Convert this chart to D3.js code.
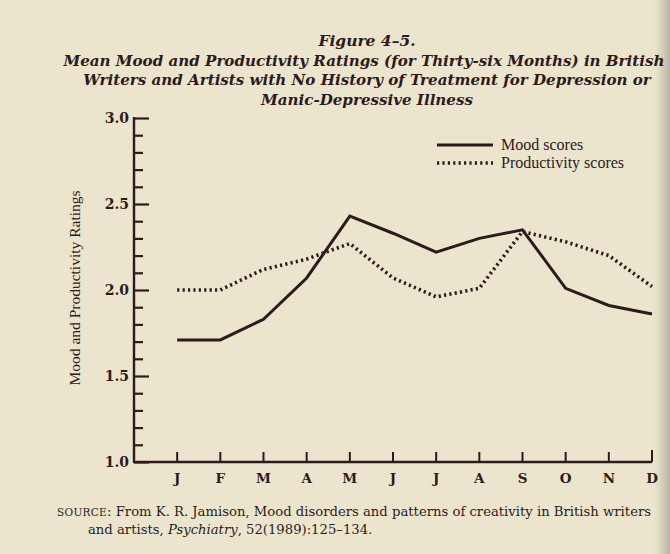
<!DOCTYPE html>
<html>
<head>
<meta charset="utf-8">
<script src="https://cdn.jsdelivr.net/npm/d3@7/dist/d3.min.js"></script>
<style>
  html, body { margin: 0; padding: 0; background: #ece5cd; }
  svg { display: block; }
</style>
</head>
<body>
<svg id="chart" width="670" height="554"></svg>
<script>
// Monthly mean ratings over thirty-six months
const months = ["J", "F", "M", "A", "M", "J", "J", "A", "S", "O", "N", "D"];
const moodScores = [1.71, 1.71, 1.83, 2.07, 2.43, 2.33, 2.22, 2.30, 2.35, 2.01, 1.91, 1.86];
const productivityScores = [2.00, 2.00, 2.12, 2.18, 2.27, 2.07, 1.96, 2.01, 2.34, 2.28, 2.20, 2.02];
const yMajorTicks = [1.0, 1.5, 2.0, 2.5, 3.0];
const yMinorTicks = [1.1, 1.2, 1.3, 1.4, 1.6, 1.7, 1.8, 1.9, 2.1, 2.2, 2.3, 2.4, 2.6, 2.7, 2.8, 2.9];
const titleLines = [
  "Figure 4\u20135.",
  "Mean Mood and Productivity Ratings (for Thirty-six Months) in British",
  "Writers and Artists with No History of Treatment for Depression or",
  "Manic-Depressive Illness"
];
const seriesNames = ["Mood scores", "Productivity scores"];

const ink = "#2c1a1e";
const svg = d3.select("#chart");

// paper tone with a darker gutter on the right edge
const defs = svg.append("defs");
const grad = defs.append("linearGradient").attr("id", "gutter").attr("x1", 0).attr("x2", 1);
grad.append("stop").attr("offset", 0).attr("stop-color", "#ece5cd").attr("stop-opacity", 0);
grad.append("stop").attr("offset", 0.5).attr("stop-color", "#d9d2bd").attr("stop-opacity", 1);
grad.append("stop").attr("offset", 1).attr("stop-color", "#b9b2a3").attr("stop-opacity", 1);
svg.append("rect").attr("width", 670).attr("height", 554).attr("fill", "#ece5cd");
svg.append("rect")
  .attr("x", 652).attr("y", 0).attr("width", 18).attr("height", 554)
  .attr("fill", "url(#gutter)");

// scales
const x = d3.scalePoint().domain(d3.range(13)).range([134, 652]);
const y = d3.scaleLinear().domain([1, 3]).range([462, 118]);

// title
const title = svg.append("g")
  .attr("font-family", "'DejaVu Serif', serif")
  .attr("font-style", "italic")
  .attr("font-weight", "bold")
  .attr("fill", ink)
  .attr("text-anchor", "middle");
titleLines.forEach((t, i) => {
  title.append("text")
    .attr("x", i === 1 ? 364 : 367)
    .attr("y", 46 + i * 19.7)
    .attr("font-size", i === 0 ? 15.5 : 15.1)
    .text(t);
});

// y axis: line with major and minor ticks
const yAxis = d3.axisRight(y).tickValues(yMajorTicks).tickSize(15).tickFormat("");
const gy = svg.append("g").attr("transform", "translate(134,0)").call(yAxis);
gy.select(".domain").remove();
gy.selectAll(".tick line").attr("stroke", ink).attr("stroke-width", 2.2);
const yMinor = d3.axisRight(y).tickValues(yMinorTicks).tickSize(9).tickFormat("");
const gym = svg.append("g").attr("transform", "translate(134,0)").call(yMinor);
gym.select(".domain").remove();
gym.selectAll(".tick line").attr("stroke", ink).attr("stroke-width", 2.2);
svg.append("line")
  .attr("x1", 134).attr("x2", 134)
  .attr("y1", y(3) - 1).attr("y2", y(1) + 1)
  .attr("stroke", ink).attr("stroke-width", 2.4);

// y tick labels
svg.append("g")
  .attr("font-family", "'DejaVu Serif', serif")
  .attr("font-weight", "bold")
  .attr("font-size", 14)
  .attr("fill", ink)
  .attr("text-anchor", "end")
  .selectAll("text")
  .data(yMajorTicks)
  .join("text")
  .attr("x", 129)
  .attr("y", d => y(d) + 5)
  .text(d => d.toFixed(1));

// y axis title
svg.append("text")
  .attr("transform", "translate(80,288) rotate(-90)")
  .attr("text-anchor", "middle")
  .attr("font-family", "'Liberation Serif', serif")
  .attr("font-size", 15.5)
  .attr("fill", ink)
  .text("Mood and Productivity Ratings");

// x axis: baseline with upward month ticks
svg.append("line")
  .attr("x1", 134).attr("x2", x(12))
  .attr("y1", y(1)).attr("y2", y(1))
  .attr("stroke", ink).attr("stroke-width", 2.4);
const monthIdx = d3.range(1, 13);
svg.append("g").selectAll("line")
  .data(monthIdx)
  .join("line")
  .attr("x1", d => x(d)).attr("x2", d => x(d))
  .attr("y1", y(1)).attr("y2", d => y(1) - (d === 12 ? 12 : 10))
  .attr("stroke", ink).attr("stroke-width", 2);
svg.append("g")
  .attr("font-family", "'DejaVu Serif', serif")
  .attr("font-weight", "bold")
  .attr("font-size", 13.5)
  .attr("fill", ink)
  .attr("text-anchor", "middle")
  .selectAll("text")
  .data(months)
  .join("text")
  .attr("x", (d, i) => x(i + 1))
  .attr("y", 483)
  .text(d => d);

// series lines
const line = d3.line().x((d, i) => x(i + 1)).y(d => y(d));
svg.append("path")
  .datum(productivityScores)
  .attr("d", line)
  .attr("fill", "none")
  .attr("stroke", ink)
  .attr("stroke-width", 3.6)
  .attr("stroke-dasharray", "2.2,3.2");
svg.append("path")
  .datum(moodScores)
  .attr("d", line)
  .attr("fill", "none")
  .attr("stroke", ink)
  .attr("stroke-width", 3)
  .attr("stroke-linejoin", "miter");

// legend
const legend = svg.append("g")
  .attr("font-family", "'Liberation Serif', serif")
  .attr("font-size", 16)
  .attr("fill", ink);
seriesNames.forEach((name, i) => {
  const ly = 145 + i * 18;
  legend.append("line")
    .attr("x1", 437).attr("x2", 493)
    .attr("y1", ly).attr("y2", ly)
    .attr("stroke", ink)
    .attr("stroke-width", i === 0 ? 3 : 3.6)
    .attr("stroke-dasharray", i === 0 ? null : "2.2,3.2");
  legend.append("text")
    .attr("x", 501)
    .attr("y", ly + 5)
    .text(name);
});

// source note
const src = svg.append("g")
  .attr("font-family", "'DejaVu Serif', serif")
  .attr("font-size", 13.2)
  .attr("fill", ink);
const l1 = src.append("text").attr("x", 57).attr("y", 516);
l1.append("tspan").attr("font-size", 10.5).attr("letter-spacing", 0.3).text("SOURCE");
l1.append("tspan").text(": From K. R. Jamison, Mood disorders and patterns of creativity in British writers");
const l2 = src.append("text").attr("x", 88).attr("y", 534);
l2.append("tspan").text("and artists, ");
l2.append("tspan").attr("font-style", "italic").text("Psychiatry");
l2.append("tspan").text(", 52(1989):125\u2013134.");
</script>
</body>
</html>
